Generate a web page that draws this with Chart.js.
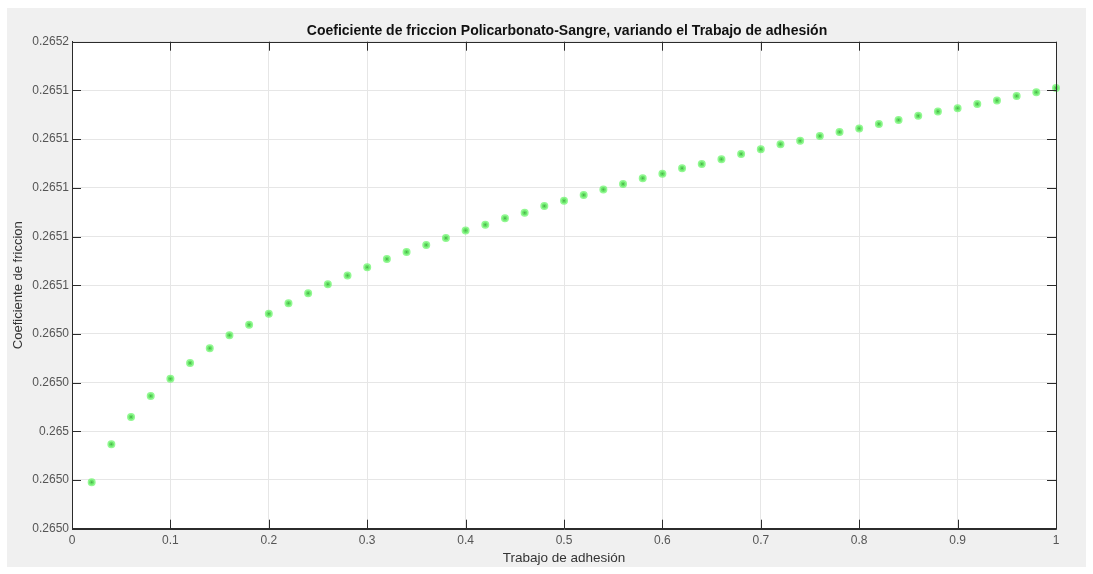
<!DOCTYPE html>
<html>
<head>
<meta charset="utf-8">
<script src="https://cdn.jsdelivr.net/npm/chart.js@4.4.1/dist/chart.umd.min.js"></script>
<style>
  html, body { margin: 0; padding: 0; background: #ffffff; }
  #wrap { width: 1093px; height: 574px; position: relative; }
</style>
</head>
<body>
<div id="wrap"><canvas id="c" width="1093" height="574"></canvas></div>
<script>
// Texts
const titleText = 'Coeficiente de friccion Policarbonato-Sangre, variando el Trabajo de adhesión';
const xAxisTitle = 'Trabajo de adhesión';
const yAxisTitle = 'Coeficiente de friccion';

// Series: work of adhesion vs. friction coefficient
const trabajoAdhesion = [
  0.02, 0.04, 0.06, 0.08, 0.10, 0.12, 0.14, 0.16, 0.18, 0.20,
  0.22, 0.24, 0.26, 0.28, 0.30, 0.32, 0.34, 0.36, 0.38, 0.40,
  0.42, 0.44, 0.46, 0.48, 0.50, 0.52, 0.54, 0.56, 0.58, 0.60,
  0.62, 0.64, 0.66, 0.68, 0.70, 0.72, 0.74, 0.76, 0.78, 0.80,
  0.82, 0.84, 0.86, 0.88, 0.90, 0.92, 0.94, 0.96, 0.98, 1.00
];
const coefFriccion = [
  0.2649791, 0.2649947, 0.2650059, 0.2650145, 0.2650216, 0.2650281, 0.2650341, 0.2650394, 0.2650438, 0.2650483,
  0.2650526, 0.2650567, 0.2650604, 0.2650640, 0.2650674, 0.2650708, 0.2650736, 0.2650765, 0.2650794, 0.2650825,
  0.2650848, 0.2650875, 0.2650898, 0.2650925, 0.2650947, 0.2650970, 0.2650993, 0.2651016, 0.2651039, 0.2651058,
  0.2651080, 0.2651098, 0.2651117, 0.2651139, 0.2651158, 0.2651179, 0.2651193, 0.2651213, 0.2651229, 0.2651244,
  0.2651262, 0.2651278, 0.2651296, 0.2651313, 0.2651327, 0.2651344, 0.2651359, 0.2651377, 0.2651392, 0.2651410
];

// Ticks
const xTickValues = [0, 0.1, 0.2, 0.3, 0.4, 0.5, 0.6, 0.7, 0.8, 0.9, 1];
const xTickLabels = ['0', '0.1', '0.2', '0.3', '0.4', '0.5', '0.6', '0.7', '0.8', '0.9', '1'];
const yTickValues = [0.26496, 0.26498, 0.26500, 0.26502, 0.26504, 0.26506, 0.26508, 0.26510, 0.26512, 0.26514, 0.26516];
const yTickLabels = ['0.2650', '0.2650', '0.265', '0.2650', '0.2650', '0.2651', '0.2651', '0.2651', '0.2651', '0.2651', '0.2652'];

const FONT = "'Liberation Sans', Arial, Helvetica, sans-serif";
const AXIS_COLOR = '#2b2b2b';
const GRID_COLOR = '#e6e6e6';
const TICK_LEN = 9;

// Figure background, white axes box, inward ticks, full box outline and title
const matlabFrame = {
  id: 'matlabFrame',
  beforeDraw(chart) {
    const { ctx, chartArea: a } = chart;
    ctx.save();
    ctx.fillStyle = '#f0f0f0';
    ctx.fillRect(7, 8, chart.width - 14, chart.height - 15);
    ctx.fillStyle = '#ffffff';
    ctx.fillRect(a.left, a.top, a.right - a.left, a.bottom - a.top);
    ctx.restore();
  },
  afterDraw(chart) {
    const { ctx, chartArea: a, scales } = chart;
    ctx.save();
    ctx.strokeStyle = AXIS_COLOR;
    ctx.lineWidth = 1;
    ctx.beginPath();
    xTickValues.forEach(v => {
      const px = Math.round(scales.x.getPixelForValue(v)) + 0.5;
      ctx.moveTo(px, a.bottom); ctx.lineTo(px, a.bottom - TICK_LEN);
      ctx.moveTo(px, a.top); ctx.lineTo(px, a.top + TICK_LEN);
    });
    yTickValues.forEach(v => {
      const py = Math.round(scales.y.getPixelForValue(v)) + 0.5;
      ctx.moveTo(a.left, py); ctx.lineTo(a.left + TICK_LEN, py);
      ctx.moveTo(a.right, py); ctx.lineTo(a.right - TICK_LEN, py);
    });
    ctx.stroke();
    ctx.beginPath();
    ctx.rect(Math.round(a.left) + 0.5, Math.round(a.top) + 0.5,
             Math.round(a.right) - Math.round(a.left), Math.round(a.bottom) - Math.round(a.top));
    ctx.stroke();

    ctx.fillStyle = '#111111';
    ctx.font = 'bold 14px ' + FONT;
    ctx.textAlign = 'center';
    ctx.textBaseline = 'middle';
    ctx.fillText(titleText, (a.left + a.right) / 2 + 3, 31);
    ctx.restore();
  }
};

const points = trabajoAdhesion.map((x, i) => ({ x: x, y: coefFriccion[i] }));

new Chart(document.getElementById('c'), {
  type: 'scatter',
  data: {
    datasets: [{
      data: points,
      pointStyle: 'circle',
      pointRadius: 2.5,
      pointBackgroundColor: '#4fae4f',
      pointBorderColor: 'rgba(110, 245, 110, 0.75)',
      pointBorderWidth: 3,
      showLine: false,
      clip: false
    }]
  },
  options: {
    responsive: false,
    animation: false,
    devicePixelRatio: 1,
    layout: { padding: { top: 41.7, right: 37, bottom: 0, left: 0 } },
    plugins: {
      legend: { display: false },
      tooltip: { enabled: false },
      title: { display: false }
    },
    scales: {
      x: {
        type: 'linear',
        min: 0,
        max: 1,
        afterBuildTicks: s => { s.ticks = xTickValues.map(v => ({ value: v })); },
        afterFit: s => { s.height = 45.3; },
        ticks: {
          autoSkip: false,
          maxRotation: 0,
          padding: 5,
          color: '#555555',
          font: { family: FONT, size: 12 },
          callback: (v, i) => xTickLabels[i]
        },
        grid: { color: GRID_COLOR, drawTicks: false },
        border: { color: AXIS_COLOR, width: 1 },
        title: {
          display: true,
          text: xAxisTitle,
          color: '#333333',
          font: { family: FONT, size: 13.5 },
          padding: { top: 0, bottom: 7.5 }
        }
      },
      y: {
        type: 'linear',
        min: 0.26496,
        max: 0.26516,
        afterBuildTicks: s => { s.ticks = yTickValues.map(v => ({ value: v })); },
        afterFit: s => { s.width = 72; },
        ticks: {
          autoSkip: false,
          padding: 3,
          color: '#555555',
          font: { family: FONT, size: 12 },
          callback: (v, i) => yTickLabels[i]
        },
        grid: { color: GRID_COLOR, drawTicks: false },
        border: { color: AXIS_COLOR, width: 1 },
        title: {
          display: true,
          text: yAxisTitle,
          color: '#333333',
          font: { family: FONT, size: 13 },
          padding: { top: 11, bottom: 0 }
        }
      }
    }
  },
  plugins: [matlabFrame]
});
</script>
</body>
</html>
